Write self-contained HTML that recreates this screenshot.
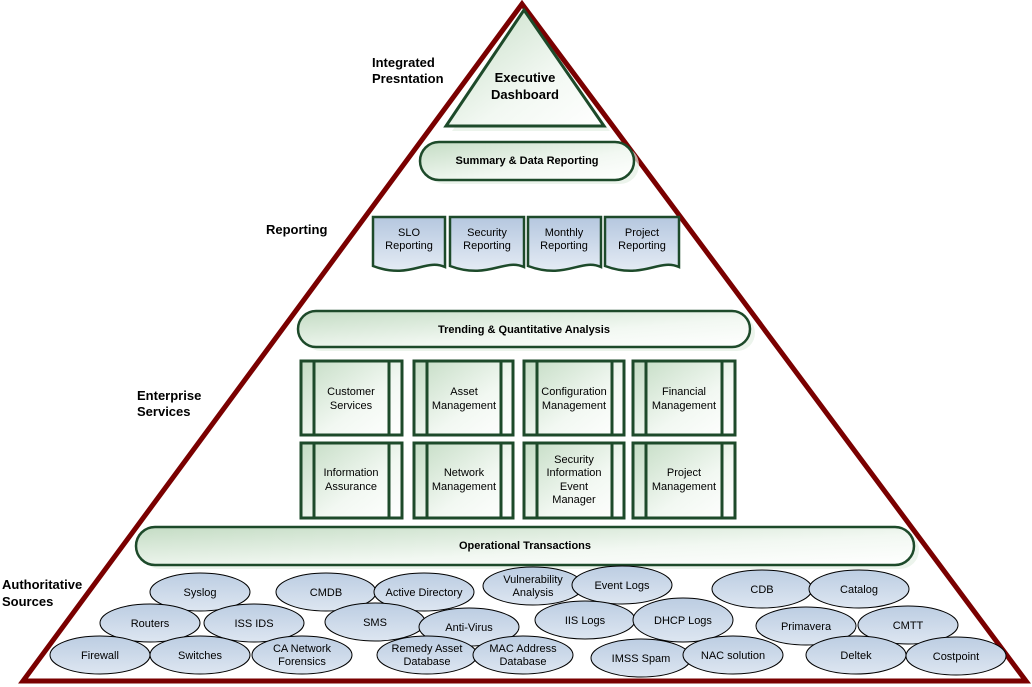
<!DOCTYPE html>
<html><head><meta charset="utf-8"><style>
html,body{margin:0;padding:0;background:#fff;width:1032px;height:687px;overflow:hidden}
svg text{font-family:"Liberation Sans",Arial,sans-serif}
</style></head><body>
<svg width="1032" height="687" viewBox="0 0 1032 687" xmlns="http://www.w3.org/2000/svg">
<defs>
<linearGradient id="g" x1="0" y1="0" x2="1" y2="1">
<stop offset="0" stop-color="#c4dcc4"/><stop offset="0.6" stop-color="#f2f8f2"/><stop offset="1" stop-color="#ffffff"/></linearGradient>
<linearGradient id="b" x1="0" y1="0" x2="0" y2="1">
<stop offset="0" stop-color="#bccde2"/><stop offset="1" stop-color="#dde6f1"/></linearGradient>
<linearGradient id="d" x1="0" y1="0" x2="0" y2="1">
<stop offset="0" stop-color="#b5c7df"/><stop offset="1" stop-color="#e4ebf4"/></linearGradient>
</defs>
<polygon points="522,4 23,681 1026,681" fill="#fff" stroke="#7a0000" stroke-width="5" stroke-linejoin="miter"/>
<g fill="#000" font-weight="bold" font-size="13">
<text x="372" y="67">Integrated</text><text x="372" y="83">Presntation</text>
<text x="266" y="234">Reporting</text>
<text x="137" y="400">Enterprise</text><text x="137" y="416">Services</text>
<text x="2" y="589">Authoritative</text><text x="2" y="606">Sources</text>
</g>
<!-- exec -->
<polygon points="452,131 610,131 530,24" fill="#e4efe4" opacity="0.7"/>
<polygon points="524,10 446,126 604,126" fill="url(#g)" stroke="#1d4a2a" stroke-width="3"/>
<text x="525" y="82" font-size="13" font-weight="bold" text-anchor="middle">Executive</text>
<text x="525" y="99" font-size="13" font-weight="bold" text-anchor="middle">Dashboard</text>
<rect x="425" y="146" width="214" height="38" rx="19" fill="#e4efe4" opacity="0.7"/>
<rect x="420" y="142" width="214" height="38" rx="19" fill="url(#g)" stroke="#1d4a2a" stroke-width="2.5"/>
<text x="527" y="164" font-size="11" font-weight="bold" text-anchor="middle">Summary &amp; Data Reporting</text>
<!-- reporting docs -->
<g stroke="#1d4a2a" stroke-width="2.5" fill="url(#d)">
<path d="M373,217 H445 V267 C425,258 410,280 373,266 Z"/>
<path d="M450,217 H524 V267 C504,258 488,280 450,266 Z"/>
<path d="M528,217 H601 V267 C581,258 566,280 528,266 Z"/>
<path d="M605,217 H679 V267 C659,258 643,280 605,266 Z"/>
</g>
<g font-size="11" text-anchor="middle">
<text x="409" y="236">SLO</text><text x="409" y="249">Reporting</text>
<text x="487" y="236">Security</text><text x="487" y="249">Reporting</text>
<text x="564" y="236">Monthly</text><text x="564" y="249">Reporting</text>
<text x="642" y="236">Project</text><text x="642" y="249">Reporting</text>
</g>
<rect x="303" y="315" width="452" height="36" rx="18" fill="#e4efe4" opacity="0.7"/>
<rect x="298" y="311" width="452" height="36" rx="18" fill="url(#g)" stroke="#1d4a2a" stroke-width="2.5"/>
<text x="524" y="333" font-size="11" font-weight="bold" text-anchor="middle">Trending &amp; Quantitative Analysis</text>
<!-- service boxes -->
<g stroke="#1d4a2a" stroke-width="3" fill="url(#g)">
<rect x="301" y="361" width="101" height="74"/><rect x="414" y="361" width="99" height="74"/>
<rect x="524" y="361" width="100" height="74"/><rect x="633" y="361" width="102" height="74"/>
<rect x="301" y="443" width="101" height="75"/><rect x="414" y="443" width="99" height="75"/>
<rect x="524" y="443" width="100" height="75"/><rect x="633" y="443" width="102" height="75"/>
</g>
<g stroke="#1d4a2a" stroke-width="3">
<path d="M314,361V435M389,361V435M427,361V435M501,361V435M537,361V435M612,361V435M646,361V435M722,361V435"/>
<path d="M314,443V518M389,443V518M427,443V518M501,443V518M537,443V518M612,443V518M646,443V518M722,443V518"/>
</g>
<g font-size="11" text-anchor="middle">
<text x="351" y="395">Customer</text><text x="351" y="409">Services</text>
<text x="464" y="395">Asset</text><text x="464" y="409">Management</text>
<text x="574" y="395">Configuration</text><text x="574" y="409">Management</text>
<text x="684" y="395">Financial</text><text x="684" y="409">Management</text>
<text x="351" y="476">Information</text><text x="351" y="490">Assurance</text>
<text x="464" y="476">Network</text><text x="464" y="490">Management</text>
<text x="574" y="463">Security</text><text x="574" y="476">Information</text><text x="574" y="490">Event</text><text x="574" y="503">Manager</text>
<text x="684" y="476">Project</text><text x="684" y="490">Management</text>
</g>
<rect x="141" y="531" width="778" height="38" rx="19" fill="#e4efe4" opacity="0.7"/>
<rect x="136" y="527" width="778" height="38" rx="19" fill="url(#g)" stroke="#1d4a2a" stroke-width="2.5"/>
<text x="525" y="549" font-size="11" font-weight="bold" text-anchor="middle">Operational Transactions</text>
<!-- ellipses -->
<g stroke="#000" stroke-width="1" fill="url(#b)">
<ellipse cx="200" cy="592" rx="50" ry="19"/><ellipse cx="326" cy="592" rx="50" ry="19"/><ellipse cx="424" cy="592" rx="50" ry="19"/>
<ellipse cx="533" cy="586" rx="50" ry="19"/><ellipse cx="622" cy="585" rx="50" ry="19"/><ellipse cx="762" cy="589" rx="50" ry="19"/><ellipse cx="859" cy="589" rx="50" ry="19"/>
<ellipse cx="150" cy="623" rx="50" ry="19"/><ellipse cx="254" cy="623" rx="50" ry="19"/><ellipse cx="375" cy="622" rx="50" ry="19"/><ellipse cx="469" cy="627" rx="50" ry="19"/>
<ellipse cx="585" cy="620" rx="50" ry="19"/><ellipse cx="683" cy="620" rx="50" ry="22"/><ellipse cx="806" cy="626" rx="50" ry="19"/><ellipse cx="908" cy="625" rx="50" ry="19"/>
<ellipse cx="100" cy="655" rx="50" ry="19"/><ellipse cx="200" cy="655" rx="50" ry="19"/><ellipse cx="302" cy="655" rx="50" ry="19"/>
<ellipse cx="427" cy="655" rx="50" ry="19"/><ellipse cx="523" cy="655" rx="50" ry="19"/><ellipse cx="641" cy="658" rx="50" ry="19"/><ellipse cx="733" cy="655" rx="50" ry="19"/>
<ellipse cx="856" cy="655" rx="50" ry="19"/><ellipse cx="956" cy="656" rx="50" ry="19"/>
</g>
<g font-size="11" text-anchor="middle">
<text x="200" y="596">Syslog</text><text x="326" y="596">CMDB</text><text x="424" y="596">Active Directory</text>
<text x="533" y="583">Vulnerability</text><text x="533" y="596">Analysis</text><text x="622" y="589">Event Logs</text>
<text x="762" y="593">CDB</text><text x="859" y="593">Catalog</text>
<text x="150" y="627">Routers</text><text x="254" y="627">ISS IDS</text><text x="375" y="626">SMS</text><text x="469" y="631">Anti-Virus</text>
<text x="585" y="624">IIS Logs</text><text x="683" y="624">DHCP Logs</text><text x="806" y="630">Primavera</text><text x="908" y="629">CMTT</text>
<text x="100" y="659">Firewall</text><text x="200" y="659">Switches</text>
<text x="302" y="652">CA Network</text><text x="302" y="665">Forensics</text>
<text x="427" y="652">Remedy Asset</text><text x="427" y="665">Database</text>
<text x="523" y="652">MAC Address</text><text x="523" y="665">Database</text>
<text x="641" y="662">IMSS Spam</text><text x="733" y="659">NAC solution</text>
<text x="856" y="659">Deltek</text><text x="956" y="660">Costpoint</text>
</g>
</svg>
</body></html>
